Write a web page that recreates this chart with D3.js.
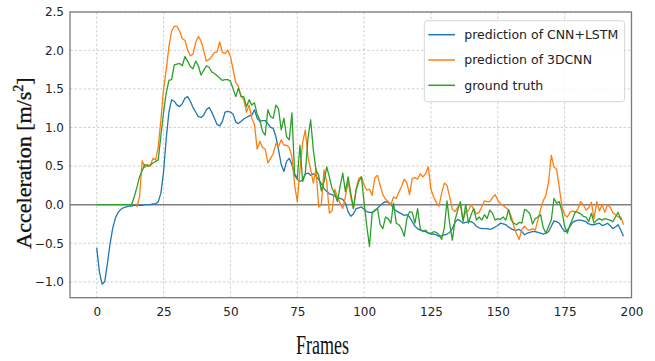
<!DOCTYPE html>
<html>
<head>
<meta charset="utf-8">
<script src="https://cdn.jsdelivr.net/npm/d3@7"></script>
<style>
  body { margin: 0; background: #fff; }
  svg { display: block; }
</style>
</head>
<body>
<div id="chart"></div>
<script>
// Series values, one per frame (0..197). 3DCNN starts at frame 15.
const cnnLstm = [
  -0.56, -0.87, -1.03, -1.00, -0.76, -0.50, -0.30, -0.17, -0.10, -0.06,
  -0.04, -0.03, -0.02, -0.02, -0.01, -0.01, -0.01, -0.01, 0.00, 0.00,
  0.00, 0.01, 0.01, 0.04, 0.15, 0.43, 0.86, 1.20, 1.36, 1.34,
  1.29, 1.27, 1.31, 1.38, 1.40, 1.34, 1.26, 1.20, 1.14, 1.13,
  1.16, 1.23, 1.26, 1.20, 1.12, 1.04, 1.02, 1.08, 1.20, 1.21,
  1.20, 1.17, 1.07, 1.05, 1.08, 1.11, 1.13, 1.15, 1.16, 1.23,
  1.12, 1.08, 1.09, 1.09, 1.05, 1.00, 0.99, 0.88, 0.71, 0.52,
  0.43, 0.56, 0.60, 0.52, 0.38, 0.33, 0.30, 0.32, 0.40, 0.41,
  0.38, 0.40, 0.37, 0.33, 0.27, 0.21, 0.17, 0.14, 0.13, 0.11,
  0.09, 0.08, 0.07, 0.02, -0.09, -0.15, -0.12, -0.05, -0.04, -0.03,
  -0.06, -0.09, -0.10, -0.10, -0.08, -0.05, -0.01, 0.02, 0.04, 0.03,
  0.01, -0.05, -0.08, -0.10, -0.12, -0.14, -0.13, -0.16, -0.22, -0.28,
  -0.31, -0.33, -0.34, -0.35, -0.37, -0.38, -0.38, -0.39, -0.41, -0.40,
  -0.39, -0.38, -0.36, -0.31, -0.23, -0.19, -0.21, -0.24, -0.23, -0.22,
  -0.22, -0.24, -0.28, -0.30, -0.31, -0.31, -0.31, -0.32, -0.31, -0.29,
  -0.27, -0.24, -0.25, -0.26, -0.29, -0.31, -0.33, -0.33, -0.32, -0.35,
  -0.39, -0.37, -0.36, -0.35, -0.35, -0.36, -0.37, -0.38, -0.37, -0.35,
  -0.28, -0.21, -0.22, -0.24, -0.30, -0.35, -0.33, -0.28, -0.23, -0.21,
  -0.20, -0.20, -0.21, -0.22, -0.25, -0.26, -0.26, -0.25, -0.24, -0.27,
  -0.26, -0.24, -0.27, -0.31, -0.29, -0.26, -0.33, -0.41
];

const cnn3d = [
  null, null, null, null, null, null, null, null, null, null,
  null, null, null, null, null, -0.03, 0.10, 0.57, 0.48, 0.52,
  0.50, 0.60, 0.58, 0.75, 1.10, 1.50, 1.75, 2.05, 2.25, 2.31,
  2.31, 2.25, 2.15, 2.13, 2.00, 1.93, 1.95, 2.10, 2.18, 2.12,
  2.00, 1.86, 1.88, 1.92, 1.97, 1.98, 2.11, 1.97, 1.96, 2.00,
  1.92, 1.75, 1.58, 1.53, 1.40, 1.36, 1.20, 1.29, 1.12, 1.04,
  0.72, 0.82, 0.74, 0.72, 0.54, 0.60, 0.66, 0.79, 0.75, 0.84,
  0.77, 0.77, 0.74, 0.62, 0.26, 0.04, 0.45, 0.80, 0.97, 0.62,
  0.45, 0.28, 0.47, -0.03, 0.00, 0.45, 0.30, -0.11, -0.08, 0.20,
  0.10, 0.02, -0.05, 0.10, 0.30, 0.10, -0.05, 0.20, 0.34, 0.36,
  0.25, 0.19, 0.20, 0.12, 0.35, 0.38, 0.25, 0.13, 0.07, 0.04,
  0.00, 0.10, 0.08, 0.16, 0.24, 0.33, 0.28, 0.13, 0.34, 0.35,
  0.33, 0.40, 0.36, 0.40, 0.49, 0.20, 0.10, 0.03, -0.02, 0.15,
  0.28, 0.25, 0.10, -0.06, -0.09, -0.03, 0.00, -0.20, -0.09, -0.08,
  0.00, -0.06, -0.12, -0.10, -0.03, 0.05, 0.04, 0.04, 0.09, 0.13,
  0.06, 0.01, -0.01, -0.04, -0.07, -0.15, -0.28, -0.38, -0.45, -0.32,
  -0.28, -0.32, -0.33, -0.31, -0.33, -0.20, -0.06, 0.05, 0.12, 0.30,
  0.64, 0.49, 0.46, 0.22, -0.03, -0.13, -0.16, -0.10, -0.08, -0.10,
  -0.05, 0.04, 0.00, -0.07, -0.04, 0.03, -0.18, 0.04, -0.08, 0.00,
  -0.10, 0.00, -0.03, -0.10, -0.13, -0.16, -0.16, -0.26
];

const groundTruth = [
  0, 0, 0, 0, 0, 0, 0, 0, 0, 0,
  0, 0, 0, 0, 0.10, 0.22, 0.36, 0.44, 0.52, 0.50,
  0.51, 0.54, 0.56, 0.58, 0.90, 1.20, 1.45, 1.61, 1.62, 1.81,
  1.82, 1.83, 1.80, 1.92, 1.86, 1.79, 1.76, 1.86, 1.80, 1.68,
  1.74, 1.80, 1.78, 1.72, 1.70, 1.67, 1.64, 1.61, 1.62, 1.62,
  1.60, 1.50, 1.40, 1.51, 1.40, 1.40, 1.27, 1.36, 1.29, 1.32,
  1.17, 1.10, 0.95, 0.90, 1.23, 1.14, 1.12, 1.29, 1.24, 0.97,
  1.12, 0.88, 0.84, 1.19, 0.40, 0.34, 0.77, 0.30, 0.40, 0.86,
  1.10, 0.71, 0.45, 0.38, 0.18, 0.30, 0.49, 0.36, 0.21, 0.15,
  0.04, 0.23, 0.41, 0.17, 0.36, 0.15, -0.05, 0.19, 0.30, 0.36,
  0.02, -0.28, -0.54, -0.11, -0.07, -0.05, -0.26, -0.31, -0.16, -0.18,
  -0.24, 0.02, -0.24, -0.26, -0.31, -0.41, -0.18, -0.09, -0.10, -0.24,
  -0.05, -0.31, -0.35, -0.33, -0.37, -0.37, -0.35, -0.36, -0.39, -0.45,
  -0.30, 0.05, -0.25, -0.46, -0.20, -0.07, 0.04, -0.22, 0.00, -0.24,
  -0.13, -0.05, -0.20, -0.16, -0.20, -0.13, -0.18, -0.07, -0.11, -0.20,
  -0.18, -0.19, -0.16, -0.20, -0.06, -0.20, -0.24, -0.26, -0.23, -0.24,
  -0.06, -0.08, -0.12, -0.25, -0.18, -0.16, -0.13, -0.30, -0.37, -0.28,
  -0.20, 0.08, 0.02, 0.04, -0.09, -0.28, -0.37, -0.26, -0.18, -0.09,
  -0.10, -0.12, -0.15, -0.16, -0.22, -0.11, -0.24, -0.20, -0.18, -0.20,
  -0.18, -0.19, -0.20, -0.22, -0.16, -0.10, -0.20
];

const seriesNames = ["prediction of CNN+LSTM", "prediction of 3DCNN", "ground truth"];
const seriesColors = ["#1f77b4", "#ff7f0e", "#2ca02c"];
const xTicks = [0, 25, 50, 75, 100, 125, 150, 175, 200];
const yTicks = [-1.0, -0.5, 0.0, 0.5, 1.0, 1.5, 2.0, 2.5];

// Chart dimensions and margins.
const width = 655;
const height = 361;
const marginTop = 12;
const marginRight = 23.5;
const marginBottom = 63.3;
const marginLeft = 70;

const x = d3.scaleLinear([-10, 200], [marginLeft, width - marginRight]);
const y = d3.scaleLinear([-1.2, 2.5], [297.3, 11.7]);

const svg = d3.create("svg").attr("width", width).attr("height", height);

// Grid
svg.append("g")
  .selectAll("line")
  .data(xTicks)
  .join("line")
  .attr("x1", (d) => x(d)).attr("x2", (d) => x(d))
  .attr("y1", marginTop).attr("y2", height - marginBottom)
  .attr("stroke", "#c4c4c4").attr("stroke-width", 0.8)
  .attr("stroke-dasharray", "2.5,2");

svg.append("g")
  .selectAll("line")
  .data(yTicks)
  .join("line")
  .attr("x1", marginLeft).attr("x2", width - marginRight)
  .attr("y1", (d) => y(d)).attr("y2", (d) => y(d))
  .attr("stroke", "#c4c4c4").attr("stroke-width", 0.8)
  .attr("stroke-dasharray", "2.5,2");

// zero line
svg.append("line")
  .attr("x1", marginLeft).attr("x2", width - marginRight)
  .attr("y1", y(0)).attr("y2", y(0))
  .attr("stroke", "#808080").attr("stroke-width", 1.5);

// lines
const line = d3.line()
  .defined((d) => d != null)
  .x((d, i) => x(i))
  .y((d) => y(d));

[cnnLstm, cnn3d, groundTruth].forEach((s, k) => {
  svg.append("path")
    .attr("fill", "none")
    .attr("stroke", seriesColors[k])
    .attr("stroke-width", 1.3)
    .attr("stroke-linejoin", "round")
    .attr("d", line(s));
});

// spines
svg.append("rect")
  .attr("x", marginLeft).attr("y", marginTop)
  .attr("width", width - marginLeft - marginRight)
  .attr("height", height - marginTop - marginBottom)
  .attr("fill", "none").attr("stroke", "#7a7a7a").attr("stroke-width", 1.3);

// axes
svg.append("g")
  .attr("transform", `translate(0,${height - marginBottom})`)
  .call(d3.axisBottom(x).tickValues(xTicks).tickSize(0).tickPadding(10))
  .call((g) => g.select(".domain").remove())
  .call((g) => g.selectAll("text")
    .attr("font-family", "DejaVu Sans").attr("font-size", 12).attr("fill", "#222"));

svg.append("g")
  .attr("transform", `translate(${marginLeft},0)`)
  .call(d3.axisLeft(y).tickValues(yTicks).tickSize(0).tickPadding(6)
    .tickFormat((d) => d3.format(".1f")(d).replace("-", "\u2212")))
  .call((g) => g.select(".domain").remove())
  .call((g) => g.selectAll("text")
    .attr("font-family", "DejaVu Sans").attr("font-size", 12).attr("fill", "#222"));

// axis labels
svg.append("text")
  .attr("x", 322.5).attr("y", 354)
  .attr("text-anchor", "middle")
  .attr("font-family", "Liberation Serif").attr("font-size", 27)
  .attr("textLength", 53).attr("lengthAdjust", "spacingAndGlyphs")
  .attr("fill", "#111")
  .text("Frames");

const yl = svg.append("text")
  .attr("transform", "translate(31,163) rotate(-90)")
  .attr("text-anchor", "middle")
  .attr("font-family", "Liberation Serif").attr("font-size", 22)
  .attr("fill", "#111").attr("stroke", "#111").attr("stroke-width", 0.35);
yl.append("tspan").text("Acceleration [m/s");
yl.append("tspan").attr("font-size", 14).attr("dy", -8).text("2");
yl.append("tspan").attr("dy", 8).text("]");

// legend
const legend = svg.append("g");
legend.append("rect")
  .attr("x", 424.3).attr("y", 20.7).attr("width", 200.4).attr("height", 81)
  .attr("rx", 3).attr("fill", "#fff").attr("fill-opacity", 0.85)
  .attr("stroke", "#d6d6d6").attr("stroke-width", 1);

const rows = legend.selectAll("g.item")
  .data(seriesNames)
  .join("g")
  .attr("transform", (d, i) => `translate(0,${34.7 + i * 25.3})`);
rows.append("line")
  .attr("x1", 428.3).attr("x2", 455)
  .attr("stroke", (d, i) => seriesColors[i]).attr("stroke-width", 1.5);
rows.append("text")
  .attr("x", 464.3).attr("dy", "0.35em")
  .attr("font-family", "DejaVu Sans").attr("font-size", 12.5).attr("fill", "#222")
  .text((d) => d);

d3.select("#chart").node().appendChild(svg.node());
</script>
</body>
</html>
